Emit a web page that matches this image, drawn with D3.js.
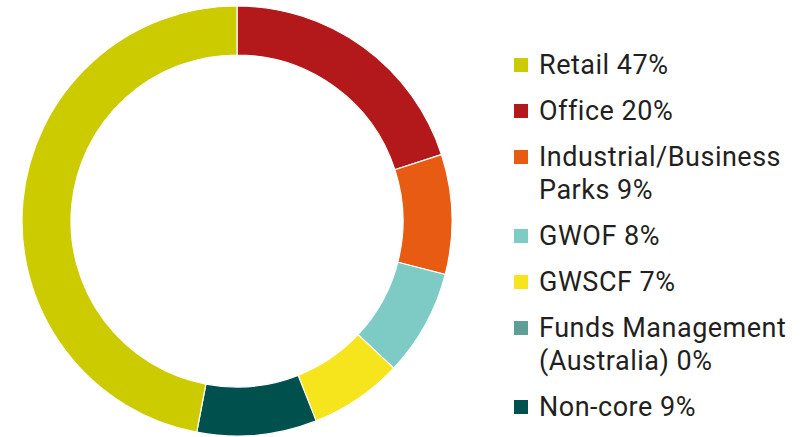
<!DOCTYPE html>
<html>
<head>
<meta charset="utf-8">
<script src="https://cdn.jsdelivr.net/npm/d3@7"></script>
<style>
  body { margin: 0; background: #fff; }
  svg { display: block; }
  .legend text { font-family: Roboto, "Noto Sans", sans-serif; font-size: 27px; letter-spacing: 0.5px; fill: #231f20; }
</style>
</head>
<body>
<div id="chart"></div>
<script>
// Données
const categories = ["Office", "Industrial/Business Parks", "GWOF", "GWSCF", "Funds Management (Australia)", "Non-core", "Retail"];
const values = [20, 9, 8, 7, 0, 9, 47];
const colors = ["#b3191b", "#e75b12", "#7ecbc6", "#f6e41c", "#5f9e98", "#00504e", "#cccb00"];

// Ordre et libellés de la légende
const legendOrder = ["Retail", "Office", "Industrial/Business Parks", "GWOF", "GWSCF", "Funds Management (Australia)", "Non-core"];
const legendLines = [
  ["Retail 47%"],
  ["Office 20%"],
  ["Industrial/Business", "Parks 9%"],
  ["GWOF 8%"],
  ["GWSCF 7%"],
  ["Funds Management", "(Australia) 0%"],
  ["Non-core 9%"]
];

const width = 801, height = 437;
const cx = 237, cy = 221, outerR = 215, innerR = 166;

const svg = d3.select("#chart")
  .append("svg")
  .attr("width", width)
  .attr("height", height);

const color = d3.scaleOrdinal().domain(categories).range(colors);

const pie = d3.pie().sort(null).value((d, i) => values[i]);
const arc = d3.arc().innerRadius(innerR).outerRadius(outerR);

// Anneau
svg.append("g")
  .attr("transform", `translate(${cx},${cy})`)
  .selectAll("path")
  .data(pie(categories))
  .join("path")
  .attr("d", arc)
  .attr("fill", d => color(d.data))
  .attr("stroke", "#fff")
  .attr("stroke-width", d => d.value > 0 ? 1.2 : 0);

// Légende
const legend = svg.append("g").attr("class", "legend");
let y = 74;
legendOrder.forEach((name, i) => {
  legend.append("rect")
    .attr("x", 514)
    .attr("y", y - 16)
    .attr("width", 14)
    .attr("height", 14)
    .attr("fill", color(name));
  legendLines[i].forEach((line, j) => {
    legend.append("text")
      .attr("x", 539)
      .attr("y", y + j * 33)
      .text(line);
  });
  y += 46 + (legendLines[i].length - 1) * 33;
});
</script>
</body>
</html>
